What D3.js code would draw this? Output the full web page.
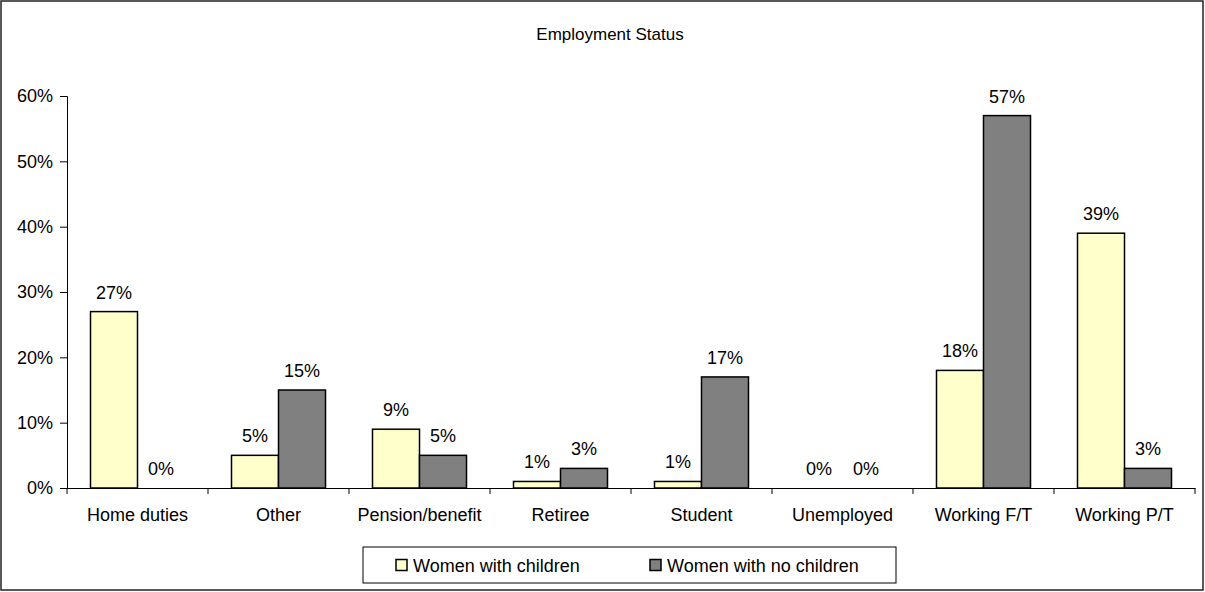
<!DOCTYPE html>
<html>
<head>
<meta charset="utf-8">
<script src="https://cdn.jsdelivr.net/npm/d3@7"></script>
<style>
  html, body { margin: 0; padding: 0; background: #fff; }
  svg { display: block; font-family: "Liberation Sans", Arial, sans-serif; }
</style>
</head>
<body>
<svg id="chart" width="1205" height="592"></svg>
<script>
// Employment status by group, in percent
const categories = ["Home duties", "Other", "Pension/benefit", "Retiree", "Student", "Unemployed", "Working F/T", "Working P/T"];
const seriesNames = ["Women with children", "Women with no children"];
const withChildren = [27, 5, 9, 1, 1, 0, 18, 39];
const noChildren = [0, 15, 5, 3, 17, 0, 57, 3];
const yTicks = [0, 10, 20, 30, 40, 50, 60];
const colors = ["#FFFFCC", "#808080"];

const FONT = "Liberation Sans, Arial, sans-serif";
const FS = 18;

const svg = d3.select("#chart");
const W = 1205, H = 592;
const plot = { left: 67, right: 1195, top: 96, bottom: 488 };

// chart frame
svg.append("rect")
  .attr("x", 1).attr("y", 1).attr("width", W - 3).attr("height", H - 3)
  .attr("fill", "#fff").attr("stroke", "#222").attr("stroke-width", 1.5);

svg.append("text")
  .attr("x", 610).attr("y", 40)
  .attr("text-anchor", "middle")
  .attr("font-size", 17)
  .attr("fill", "#000")
  .text("Employment Status");

const x = d3.scaleBand().domain(categories).range([plot.left, plot.right]).padding(0);
const xs = d3.scaleBand().domain(seriesNames).range([0, x.bandwidth()]).paddingInner(0).paddingOuter(0.5);
const y = d3.scaleLinear().domain([0, 60]).range([plot.bottom, plot.top]);

// y axis
const yAxis = svg.append("g")
  .attr("transform", `translate(${plot.left},0)`)
  .call(d3.axisLeft(y).tickValues(yTicks).tickFormat(d => d + "%").tickSize(7).tickPadding(7));
yAxis.select(".domain").attr("stroke", "#000").attr("stroke-width", 1);
yAxis.selectAll(".tick line").attr("stroke", "#000");
yAxis.selectAll(".tick text").attr("font-size", FS).attr("fill", "#000").attr("font-family", FONT);

// x axis: labels centred under each group, ticks at group boundaries
const xAxis = svg.append("g")
  .attr("transform", `translate(0,${plot.bottom})`)
  .call(d3.axisBottom(x).tickSize(0).tickPadding(20));
xAxis.select(".domain").attr("stroke", "#000").attr("stroke-width", 1);
xAxis.selectAll(".tick text").attr("font-size", FS).attr("fill", "#000").attr("font-family", FONT);

const bounds = categories.map(c => x(c)).concat([x(categories[categories.length - 1]) + x.bandwidth()]);
svg.append("g").selectAll("line").data(bounds).join("line")
  .attr("x1", d => d).attr("x2", d => d)
  .attr("y1", plot.bottom).attr("y2", plot.bottom + 6)
  .attr("stroke", "#000");

// bars
const rows = categories.map((c, i) => ({ cat: c, vals: [withChildren[i], noChildren[i]] }));
const groups = svg.append("g").selectAll("g").data(rows).join("g")
  .attr("transform", d => `translate(${x(d.cat)},0)`);

groups.selectAll("rect")
  .data(d => d.vals.map((v, j) => ({ s: seriesNames[j], v, j })).filter(e => e.v > 0))
  .join("rect")
  .attr("x", e => xs(e.s))
  .attr("y", e => y(e.v))
  .attr("width", xs.bandwidth())
  .attr("height", e => y(0) - y(e.v))
  .attr("fill", e => colors[e.j])
  .attr("stroke", "#000")
  .attr("stroke-width", 1.5);

groups.selectAll("text")
  .data(d => d.vals.map((v, j) => ({ s: seriesNames[j], v })))
  .join("text")
  .attr("x", e => xs(e.s) + xs.bandwidth() / 2)
  .attr("y", e => y(e.v) - 13)
  .attr("text-anchor", "middle")
  .attr("font-size", FS)
  .attr("fill", "#000")
  .text(e => e.v + "%");

// legend
const lg = svg.append("g").attr("transform", "translate(363,547)");
lg.append("rect").attr("width", 533).attr("height", 36)
  .attr("fill", "#fff").attr("stroke", "#000").attr("stroke-width", 1);
const items = lg.selectAll("g").data(seriesNames).join("g")
  .attr("transform", (d, i) => `translate(${i === 0 ? 33 : 287},0)`);
items.append("rect")
  .attr("x", 0).attr("y", 12.5).attr("width", 11).attr("height", 11)
  .attr("fill", (d, i) => colors[i]).attr("stroke", "#000").attr("stroke-width", 1.5);
items.append("text")
  .attr("x", 17).attr("y", 24.5)
  .attr("font-size", FS).attr("fill", "#000")
  .text(d => d);
</script>
</body>
</html>
